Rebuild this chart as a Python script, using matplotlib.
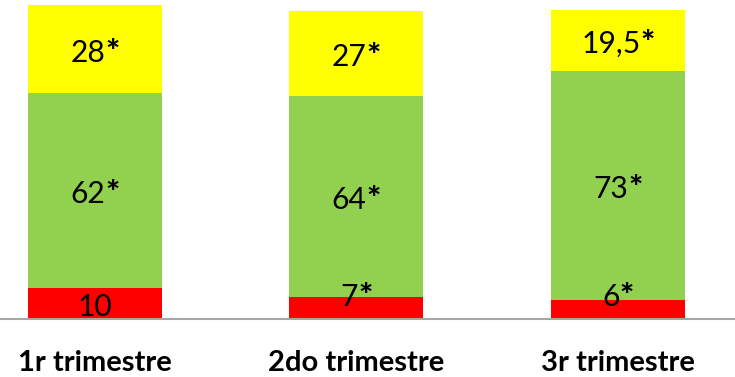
import matplotlib
matplotlib.use('Agg')
import matplotlib.pyplot as plt
import numpy as np
from matplotlib.transforms import offset_copy

categories = ['1r trimestre', '2do trimestre', '3r trimestre']
red_vals = [10, 7, 6]
green_vals = [62, 64, 73]
yellow_vals = [28, 27, 19.5]
red_labels = ['10', '7*', '6*']
green_labels = ['62*', '64*', '73*']
yellow_labels = ['28*', '27*', '19,5*']

RED, GREEN, YELLOW = '#FF0000', '#92D050', '#FFFF00'
FONT = 'Lato'
LABEL_SIZE = 21.6
STAR_SIZE = 24

fig = plt.figure(figsize=(7.35, 3.77), dpi=100)
ax = fig.add_axes([0, 58 / 377, 1, 314 / 377])
x = np.arange(len(categories))
w = 0.512
red = np.array(red_vals, float)
green = np.array(green_vals, float)
yellow = np.array(yellow_vals, float)
ax.bar(x, red, w, color=RED, linewidth=0)
ax.bar(x, green, w, bottom=red, color=GREEN, linewidth=0)
ax.bar(x, yellow, w, bottom=red + green, color=YELLOW, linewidth=0)

ax.set_xlim(-0.362, 2.447)
ax.set_ylim(0, 100)
for s in ['top', 'right', 'left']:
    ax.spines[s].set_visible(False)
ax.spines['bottom'].set_color('#A6A6A6')
ax.spines['bottom'].set_linewidth(1.5)
ax.set_yticks([])
ax.set_xticks(x)
ax.set_xticklabels(categories, fontsize=21, fontweight='bold', family=FONT)
ax.tick_params(axis='x', length=0, pad=22)

renderer = fig.canvas.get_renderer()
DY = -2


def add_label(xc, yc, s):
    num = s.rstrip('*')
    star = s[len(num):]
    t1 = ax.text(xc, yc, num, ha='left', va='baseline', fontsize=LABEL_SIZE, family=FONT, color='black')
    w1 = t1.get_window_extent(renderer).width
    t2 = None
    w2 = 0
    if star:
        t2 = ax.text(xc, yc, star, ha='left', va='baseline', fontsize=STAR_SIZE, family=FONT,
                     fontweight='black', color='black')
        w2 = t2.get_window_extent(renderer).width
    total = w1 + w2
    base = -0.36 * LABEL_SIZE * 100 / 72 + DY
    t1.set_transform(offset_copy(ax.transData, fig=fig, x=-total / 2, y=base, units='dots'))
    if t2 is not None:
        t2.set_transform(offset_copy(ax.transData, fig=fig, x=-total / 2 + w1, y=base, units='dots'))


for i in range(len(categories)):
    ry = red[i] / 2 if red[i] >= 8 else 8.3
    add_label(x[i], ry, red_labels[i])
    add_label(x[i], red[i] + green[i] / 2, green_labels[i])
    add_label(x[i], red[i] + green[i] + yellow[i] / 2, yellow_labels[i])

fig.savefig('out.png', dpi=100)
